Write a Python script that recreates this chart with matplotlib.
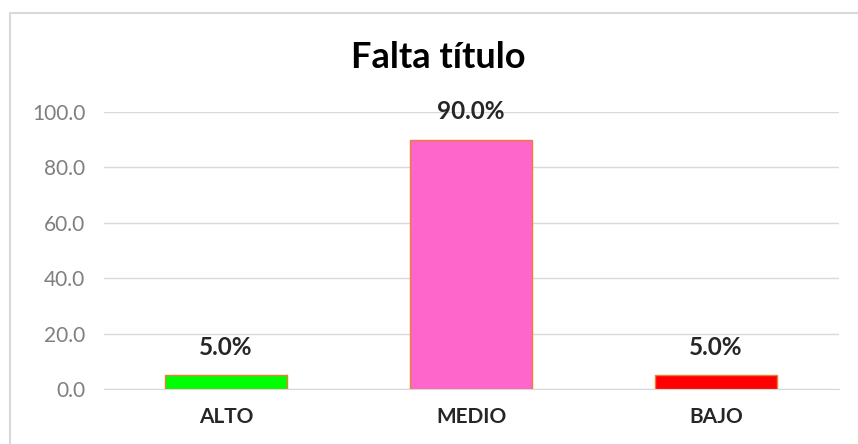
import matplotlib
matplotlib.use("Agg")
import matplotlib.pyplot as plt
from matplotlib.patches import Rectangle

# datos del gráfico
categorias = ["ALTO", "MEDIO", "BAJO"]
porcentajes = [5.0, 90.0, 5.0]
colores = ["#00FF00", "#FF66CC", "#FF0000"]
ticks_y = [0, 20, 40, 60, 80, 100]

plt.rcParams["font.family"] = ["Lato", "DejaVu Sans"]

fig = plt.figure(figsize=(8.58, 4.44), dpi=100)
ax = fig.add_axes([103.5 / 858, 55 / 444, 735 / 858, 277 / 444])

# marco del gráfico (se sale por la derecha y abajo)
fig.patches.append(Rectangle((9.5 / 858, -0.1), 1.2, (444 - 13.5) / 444 + 0.1,
                             transform=fig.transFigure, fill=False,
                             edgecolor="#D9D9D9", lw=1.5))

x = range(len(categorias))
bars = ax.bar(x, porcentajes, width=0.5, color=colores,
              edgecolor="#ED7D31", linewidth=1.0, zorder=3)

for b, v in zip(bars, porcentajes):
    ax.text(b.get_x() + b.get_width() / 2, v + 6.0, f"{v:.1f}%",
            ha="center", va="bottom", fontsize=17.5, fontweight="bold",
            color="#262626", zorder=4)

ax.set_xlim(-0.5, len(categorias) - 0.5)
ax.set_ylim(0, 100)
ax.set_yticks(ticks_y)
ax.set_yticklabels([f"{t:.1f}" for t in ticks_y])
ax.set_xticks(list(x))
ax.set_xticklabels(categorias, fontsize=15, fontweight="bold", color="#262626")
ax.tick_params(axis="y", length=0, labelsize=15, labelcolor="#7F7F7F", pad=13)
ax.tick_params(axis="x", length=0, pad=13)
ax.grid(axis="y", color="#D9D9D9", lw=1.0, zorder=0)
for s in ["top", "right", "left"]:
    ax.spines[s].set_visible(False)
ax.spines["bottom"].set_color("#D9D9D9")
ax.set_clip_on(False)

fig.text(438 / 858, 1 - 57 / 444, "Falta título", ha="center", va="center",
         fontsize=26, fontweight="bold", color="#000000")

fig.savefig("out.png", dpi=100)
